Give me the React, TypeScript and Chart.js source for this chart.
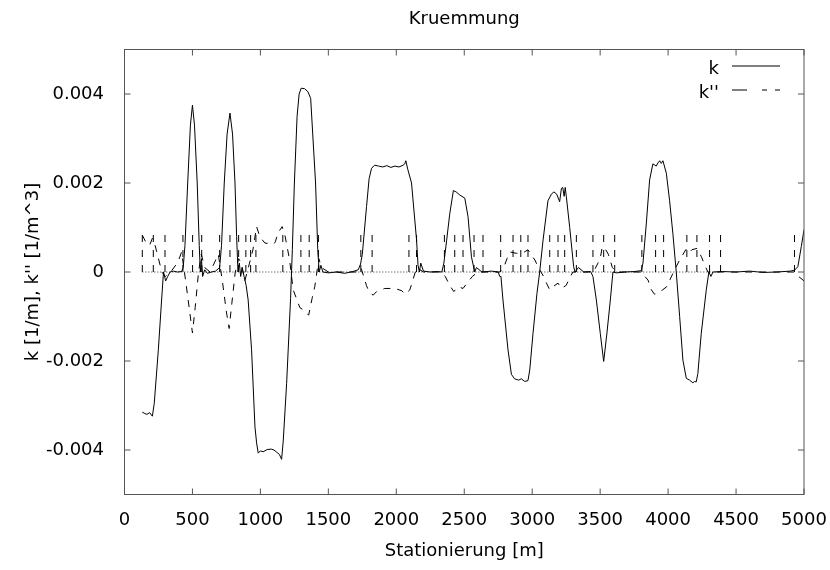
import React, { useEffect, useRef } from "react";
import { Chart, registerables } from "chart.js";

Chart.register(...registerables);

// ---------- data ----------
const chartTitle = "Kruemmung";
const xAxisTitle = "Stationierung [m]";
const yAxisTitle = "k [1/m], k'' [1/m^3]";
const seriesNames = ["k", "k''"];

const xTicks = [0, 500, 1000, 1500, 2000, 2500, 3000, 3500, 4000, 4500, 5000];
const yTicks = [-0.004, -0.002, 0, 0.002, 0.004];
const yTickLabels = ["-0.004", "-0.002", "0", "0.002", "0.004"];

// curvature k
const kStation = [
  131, 150, 165, 185, 205, 219, 249, 273, 287, 303, 318, 335, 360, 390, 420, 432, 445, 465, 485, 500,
  515, 535, 550, 558, 566, 575, 590, 610, 640, 670, 700, 714, 734, 755, 776, 795, 813, 825, 835, 845,
  855, 865, 880, 895, 910, 935, 960, 972, 984, 1000, 1020, 1050, 1080, 1100, 1120, 1140, 1156, 1168, 1193, 1222,
  1235, 1250, 1270, 1285, 1300, 1325, 1350, 1370, 1385, 1406, 1422, 1433, 1445, 1460, 1500, 1560, 1620, 1680, 1720, 1737,
  1750, 1781, 1800, 1818, 1840, 1870, 1900, 1930, 1960, 1990, 2020, 2050, 2062, 2070, 2085, 2112, 2149, 2160, 2170, 2180,
  2200, 2250, 2300, 2335, 2350, 2370, 2393, 2420, 2440, 2467, 2504, 2528, 2553, 2577, 2590, 2630, 2700, 2750, 2761, 2770,
  2785, 2822, 2847, 2870, 2900, 2920, 2945, 2969, 2982, 3006, 3035, 3055, 3080, 3116, 3141, 3160, 3180, 3202, 3215, 3225,
  3235, 3243, 3251, 3276, 3305, 3315, 3340, 3380, 3430, 3447, 3472, 3501, 3526, 3550, 3575, 3594, 3620, 3680, 3750, 3803,
  3815, 3840, 3864, 3888, 3913, 3925, 3938, 3950, 3962, 3987, 4011, 4035, 4060, 4085, 4109, 4134, 4158, 4182, 4195, 4207,
  4219, 4244, 4281, 4300, 4315, 4330, 4400, 4500, 4600, 4700, 4800, 4900, 4930, 4955, 4980, 5000,
];
const kValue = [
  -0.00315, -0.00318, -0.0032, -0.00316, -0.00324, -0.00295, -0.00175, -0.00063, 0.0, -0.0002, -0.0001, 0.0, 0.00002, 0.0, 0.00001, 0.0001, 0.0006, 0.002, 0.0033, 0.00375,
  0.0033, 0.002, 0.0006, 0.0, 0.0003, -0.0001, 0.00005, -0.00003, 0.0, 0.00002, 0.0001, 0.0006, 0.002, 0.0031, 0.00357, 0.0031, 0.002, 0.0008, 0.0, 0.0002,
  -0.0001, 0.0001, -0.0001, -0.0003, -0.00063, -0.00175, -0.00348, -0.00384, -0.00407, -0.00402, -0.00404, -0.00399, -0.00398, -0.004, -0.00405, -0.0041, -0.00421, -0.0038, -0.0025, -0.0006,
  0.0005, 0.002, 0.0035, 0.004, 0.00413, 0.00412, 0.00405, 0.0039, 0.0031, 0.002, 0.0005, 0.0, 0.00015, 0.0, -0.00002, 0.0, -0.00003, 0.00001, 0.00005, 0.00018,
  0.0004, 0.00147, 0.0021, 0.00233, 0.0024, 0.00238, 0.00236, 0.00239, 0.00235, 0.00238, 0.00236, 0.0024, 0.00243, 0.0025, 0.0023, 0.002, 0.00072, 0.00015, 0.0, 0.0002,
  0.00002, 0.0, 0.00001, 0.0, 0.0002, 0.0007, 0.0013, 0.00183, 0.0018, 0.00173, 0.00166, 0.00124, 0.00034, 0.0, 0.0001, 0.0, 0.00002, 0.0, -0.0001, -0.0001,
  -0.00063, -0.00175, -0.0023, -0.0024, -0.00243, -0.0024, -0.00246, -0.00244, -0.0022, -0.00138, -0.00048, 0.0, 0.00072, 0.0016, 0.00175, 0.0018, 0.00175, 0.00158, 0.00188, 0.0019,
  0.0017, 0.0019, 0.0017, 0.001, 0.00012, 0.0, 0.0001, 0.0, 0.00001, -0.0001, -0.00063, -0.00138, -0.00201, -0.00137, -0.00063, 0.0, -0.00002, 0.0, 0.00001, 0.00003,
  0.0002, 0.0011, 0.00207, 0.00243, 0.00238, 0.00245, 0.0025, 0.00244, 0.0025, 0.00222, 0.0016, 0.00087, 0.0, -0.001, -0.00198, -0.00239, -0.00243, -0.00249, -0.00246, -0.00247,
  -0.00228, -0.00138, -0.0004, 0.0, -0.0001, 0.0, 0.00001, 0.0, 0.00002, -0.00001, 0.0, 0.00002, 0.00004, 0.00012, 0.00057, 0.00095,
];

// second derivative k''
const k2Station = [
  131, 160, 185, 205, 225, 250, 275, 300, 340, 395, 420, 450, 480, 500, 520, 545, 565, 590, 630, 665,
  690, 720, 750, 770, 790, 815, 840, 860, 885, 920, 945, 972, 996, 1033, 1099, 1110, 1130, 1160, 1180, 1215,
  1241, 1266, 1290, 1330, 1355, 1380, 1400, 1430, 1450, 1500, 1700, 1740, 1780, 1800, 1830, 1855, 1915, 1990, 2040, 2065,
  2100, 2120, 2150, 2200, 2330, 2360, 2393, 2423, 2455, 2491, 2528, 2560, 2600, 2760, 2790, 2815, 2835, 2884, 2932, 2969,
  2994, 3020, 3045, 3090, 3105, 3129, 3153, 3190, 3215, 3250, 3276, 3300, 3450, 3484, 3500, 3515, 3526, 3541, 3560, 3590,
  3620, 3800, 3852, 3877, 3900, 3915, 3960, 3990, 4040, 4090, 4130, 4138, 4160, 4175, 4212, 4244, 4270, 4293, 4320, 4930,
  4960, 5000,
];
const k2Value = [
  0.00083, 0.00065, 0.0006, 0.00076, 0.0006, 0.0003, 0.0, -0.0001, 0.0, 0.00023, 0.00045, -0.0002, -0.0009, -0.00137, -0.0008, 0.0, 0.0004, 0.0001, 0.0, 0.00023,
  0.0004, -0.0002, -0.0009, -0.00127, -0.0007, 0.0, 0.0003, 0.0002, -0.0002, 0.0002, 0.0005, 0.00102, 0.00079, 0.00065, 0.00063, 0.00068, 0.00088, 0.00102, 0.00083, 0.00027,
  -0.0004, -0.0006, -0.0008, -0.00088, -0.00097, -0.0006, -0.00033, 0.0003, 0.0001, 0.0, 0.0, 0.0001, -0.0003, -0.00045, -0.00052, -0.00044, -0.00037, -0.00037, -0.00042, -0.0005,
  -0.0004, -0.0002, 0.0001, 0.0, 0.0, -0.0001, -0.0003, -0.00044, -0.00033, -0.00037, -0.00022, -0.0001, 0.0, 0.0, 0.0001, 0.0003, 0.00045, 0.00042, 0.00043, 0.0005,
  0.00038, 0.00027, 0.0001, -0.00013, -0.00025, -0.0004, -0.00033, -0.00025, -0.00037, -0.0003, -0.00013, 0.0, 0.0, 0.0002, 0.0003, 0.00055, 0.00057, 0.0005, 0.0004, 0.0001,
  0.0, 0.0, -0.00018, -0.0004, -0.0005, -0.00048, -0.0004, -0.00033, 0.0, 0.0003, 0.0005, 0.00053, 0.00045, 0.0005, 0.00053, 0.00035, 0.00015, 0.0, 0.0, 0.0,
  -0.0001, -0.0002,
];

// element boundaries (vertical markers in the k'' style)
const markerStations = [
  131, 212, 298, 430, 501, 568, 700, 776, 840, 893, 928, 967, 1165, 1298, 1359, 1427, 1739, 1822, 2093, 2149,
  2354, 2430, 2491, 2572, 2638, 2768, 2859, 2916, 2969, 3129, 3190, 3239, 3325, 3447, 3526, 3607, 3807, 3908, 3967, 4138,
  4212, 4305, 4386, 4930,
];
const markerHeight = 0.00085;
const zeroLineRange = [131, 4386];

// ---------- styling ----------
const FONT = "'DejaVu Sans', Verdana, sans-serif";
const FONT_SIZE = 18;

const framePlugin = {
  id: "gnuplotFrame",
  afterDraw(chart: any) {
    const { ctx, chartArea, scales } = chart;
    const { left, right, top, bottom } = chartArea;
    ctx.save();
    ctx.strokeStyle = "#555";
    ctx.lineWidth = 1;
    ctx.setLineDash([]);
    ctx.strokeRect(left, top, right - left, bottom - top);
    const tl = 6;
    ctx.beginPath();
    xTicks.forEach((v) => {
      const px = scales.x.getPixelForValue(v);
      ctx.moveTo(px, bottom);
      ctx.lineTo(px, bottom - tl);
      ctx.moveTo(px, top);
      ctx.lineTo(px, top + tl);
    });
    yTicks.forEach((v) => {
      const py = scales.y.getPixelForValue(v);
      ctx.moveTo(left, py);
      ctx.lineTo(left + tl, py);
      ctx.moveTo(right, py);
      ctx.lineTo(right - tl, py);
    });
    ctx.stroke();

    // legend (gnuplot style: text right-aligned, sample line to the right)
    ctx.fillStyle = "#000";
    ctx.strokeStyle = "#000";
    ctx.font = `${FONT_SIZE}px ${FONT}`;
    ctx.textAlign = "right";
    ctx.textBaseline = "alphabetic";
    const textX = right - 85;
    const lineX0 = right - 72;
    const lineX1 = right - 24;
    const rows = [top + 16.5, top + 40.5];
    const dashes = [[], [15, 15, 5, 8, 5, 100]];
    seriesNames.forEach((name, i) => {
      ctx.fillText(name, textX, rows[i] + 8);
      ctx.setLineDash(dashes[i]);
      ctx.beginPath();
      ctx.moveTo(lineX0, rows[i]);
      ctx.lineTo(lineX1, rows[i]);
      ctx.stroke();
    });
    ctx.restore();
  },
};

export default function App() {
  const ref = useRef<HTMLCanvasElement>(null);

  useEffect(() => {
    const kData = kStation.map((x, i) => ({ x, y: kValue[i] }));
    const k2Data = k2Station.map((x, i) => ({ x, y: k2Value[i] }));
    const markerData: any[] = [];
    markerStations.forEach((s) => {
      markerData.push({ x: s, y: 0 });
      markerData.push({ x: s, y: markerHeight });
      markerData.push({ x: s, y: null });
    });
    const zeroData = zeroLineRange.map((x) => ({ x, y: 0 }));

    const common = {
      borderColor: "#000",
      backgroundColor: "#000",
      borderWidth: 1,
      pointRadius: 0,
      pointHoverRadius: 0,
      fill: false,
      tension: 0,
    };

    const chart = new Chart(ref.current as HTMLCanvasElement, {
      type: "line",
      data: {
        datasets: [
          { ...common, label: seriesNames[0], data: kData },
          { ...common, label: seriesNames[1], data: k2Data, borderDash: [7, 7] },
          { ...common, label: "markers", data: markerData, borderDash: [7, 8], spanGaps: false },
          { ...common, label: "zero", data: zeroData, borderDash: [1, 2], borderColor: "#333" },
        ],
      },
      options: {
        responsive: false,
        animation: false,
        devicePixelRatio: 1,
        layout: { padding: { left: 0, right: 26, top: 0, bottom: 0 } },
        plugins: {
          legend: { display: false },
          tooltip: { enabled: false },
          title: {
            display: true,
            text: chartTitle,
            fullSize: false,
            color: "#000",
            font: { family: FONT, size: FONT_SIZE, weight: "normal", lineHeight: 1.2 },
            padding: { top: 9, bottom: 18.9 },
          },
        },
        scales: {
          x: {
            type: "linear",
            min: 0,
            max: 5000,
            afterBuildTicks: (s: any) => {
              s.ticks = xTicks.map((v) => ({ value: v }));
            },
            ticks: {
              color: "#000",
              font: { family: FONT, size: FONT_SIZE, lineHeight: 1.2 },
              padding: 1.5,
              maxRotation: 0,
              autoSkip: false,
              callback: (v: any) => String(v),
            },
            grid: {
              display: true,
              drawOnChartArea: false,
              drawTicks: true,
              tickLength: 14,
              color: "rgba(0,0,0,0)",
            },
            border: { display: false },
            title: {
              display: true,
              text: xAxisTitle,
              color: "#000",
              font: { family: FONT, size: FONT_SIZE, lineHeight: 1.2 },
              padding: { top: 0, bottom: 8 },
            },
            afterFit: (s: any) => {
              s.height = 75.5;
            },
          },
          y: {
            type: "linear",
            min: -0.005,
            max: 0.005,
            afterBuildTicks: (s: any) => {
              s.ticks = yTicks.map((v) => ({ value: v }));
            },
            ticks: {
              color: "#000",
              font: { family: FONT, size: FONT_SIZE, lineHeight: 1.2 },
              padding: 12.5,
              autoSkip: false,
              callback: (_v: any, i: number) => yTickLabels[i],
            },
            grid: { display: false },
            border: { display: false },
            title: {
              display: true,
              text: yAxisTitle,
              color: "#000",
              font: { family: FONT, size: FONT_SIZE, lineHeight: 1.2 },
              padding: { top: 22.2, bottom: 0 },
            },
            afterFit: (s: any) => {
              s.width = 124.5;
            },
          },
        },
      },
      plugins: [framePlugin],
    } as any);

    return () => chart.destroy();
  }, []);

  return (
    <div style={{ position: "fixed", left: 0, top: 0, width: 830, height: 570, background: "#fff" }}>
      <canvas ref={ref} width={830} height={570} style={{ width: 830, height: 570, display: "block" }} />
    </div>
  );
}
